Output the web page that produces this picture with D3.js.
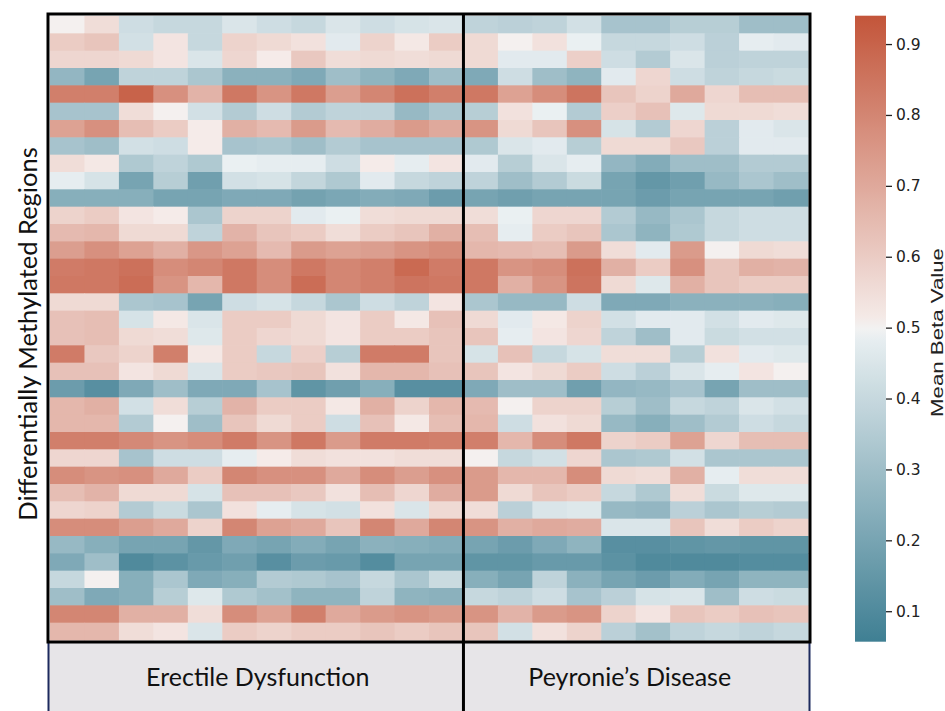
<!DOCTYPE html>
<html>
<head>
<meta charset="utf-8">
<script src="https://cdn.jsdelivr.net/npm/d3@7/dist/d3.min.js"></script>
<style>
    body { margin: 0; background: #fff; }
    svg { display: block; }
</style>
</head>
<body>
<svg class="chart" width="945" height="711"></svg>
<script>
// Groups shown under the heatmap
const groups = ["Erectile Dysfunction", "Peyronie\u2019s Disease"];

// Mean beta values, one row per region, one column per sample (ED: 12, PD: 10)
const edValues = [
    [0.50, 0.55, 0.42, 0.40, 0.40, 0.45, 0.42, 0.40, 0.45, 0.42, 0.44, 0.45],
    [0.60, 0.62, 0.43, 0.53, 0.40, 0.58, 0.56, 0.54, 0.47, 0.58, 0.52, 0.60],
    [0.57, 0.57, 0.56, 0.53, 0.45, 0.57, 0.51, 0.61, 0.55, 0.56, 0.55, 0.56],
    [0.27, 0.20, 0.38, 0.38, 0.33, 0.25, 0.25, 0.22, 0.30, 0.26, 0.22, 0.30],
    [0.82, 0.82, 0.90, 0.77, 0.67, 0.84, 0.76, 0.84, 0.73, 0.80, 0.86, 0.82],
    [0.32, 0.32, 0.55, 0.50, 0.43, 0.35, 0.42, 0.35, 0.38, 0.38, 0.28, 0.33],
    [0.72, 0.77, 0.64, 0.60, 0.51, 0.68, 0.65, 0.74, 0.65, 0.69, 0.74, 0.70],
    [0.32, 0.30, 0.43, 0.42, 0.51, 0.32, 0.33, 0.30, 0.35, 0.32, 0.32, 0.32],
    [0.55, 0.52, 0.34, 0.38, 0.34, 0.49, 0.48, 0.48, 0.42, 0.51, 0.48, 0.53],
    [0.48, 0.44, 0.20, 0.36, 0.18, 0.43, 0.44, 0.39, 0.34, 0.47, 0.40, 0.38],
    [0.24, 0.24, 0.24, 0.20, 0.20, 0.22, 0.22, 0.19, 0.21, 0.23, 0.22, 0.17],
    [0.58, 0.60, 0.53, 0.51, 0.33, 0.58, 0.58, 0.47, 0.49, 0.55, 0.56, 0.56],
    [0.65, 0.66, 0.56, 0.56, 0.38, 0.67, 0.62, 0.60, 0.55, 0.60, 0.62, 0.68],
    [0.73, 0.77, 0.72, 0.68, 0.75, 0.72, 0.65, 0.74, 0.72, 0.73, 0.76, 0.78],
    [0.83, 0.84, 0.86, 0.78, 0.80, 0.84, 0.78, 0.84, 0.80, 0.82, 0.88, 0.83],
    [0.84, 0.84, 0.87, 0.76, 0.66, 0.84, 0.78, 0.87, 0.80, 0.82, 0.85, 0.84],
    [0.56, 0.56, 0.33, 0.32, 0.20, 0.42, 0.44, 0.40, 0.33, 0.42, 0.38, 0.53],
    [0.63, 0.64, 0.44, 0.52, 0.45, 0.60, 0.60, 0.56, 0.53, 0.60, 0.52, 0.63],
    [0.63, 0.64, 0.56, 0.55, 0.46, 0.60, 0.57, 0.56, 0.53, 0.60, 0.60, 0.62],
    [0.83, 0.61, 0.58, 0.82, 0.52, 0.60, 0.40, 0.59, 0.36, 0.83, 0.83, 0.62],
    [0.63, 0.63, 0.53, 0.56, 0.45, 0.60, 0.61, 0.62, 0.54, 0.66, 0.66, 0.63],
    [0.17, 0.12, 0.22, 0.30, 0.22, 0.22, 0.32, 0.14, 0.18, 0.24, 0.12, 0.12],
    [0.66, 0.68, 0.43, 0.55, 0.36, 0.67, 0.60, 0.60, 0.52, 0.68, 0.58, 0.66],
    [0.66, 0.66, 0.35, 0.50, 0.30, 0.62, 0.56, 0.60, 0.42, 0.63, 0.52, 0.64],
    [0.82, 0.82, 0.79, 0.76, 0.78, 0.83, 0.76, 0.84, 0.74, 0.83, 0.83, 0.82],
    [0.57, 0.57, 0.32, 0.42, 0.42, 0.48, 0.51, 0.55, 0.54, 0.54, 0.55, 0.55],
    [0.78, 0.76, 0.77, 0.70, 0.60, 0.80, 0.77, 0.77, 0.70, 0.78, 0.73, 0.77],
    [0.64, 0.67, 0.56, 0.56, 0.44, 0.63, 0.63, 0.61, 0.54, 0.64, 0.57, 0.69],
    [0.57, 0.58, 0.35, 0.41, 0.33, 0.54, 0.48, 0.44, 0.43, 0.54, 0.45, 0.56],
    [0.78, 0.78, 0.73, 0.70, 0.58, 0.80, 0.72, 0.70, 0.62, 0.80, 0.70, 0.80],
    [0.28, 0.24, 0.20, 0.20, 0.15, 0.22, 0.20, 0.23, 0.20, 0.25, 0.24, 0.23],
    [0.22, 0.30, 0.10, 0.13, 0.16, 0.18, 0.12, 0.17, 0.16, 0.11, 0.20, 0.20],
    [0.40, 0.50, 0.24, 0.33, 0.22, 0.24, 0.35, 0.34, 0.32, 0.40, 0.33, 0.41],
    [0.30, 0.22, 0.24, 0.36, 0.46, 0.34, 0.31, 0.26, 0.26, 0.38, 0.26, 0.25],
    [0.80, 0.80, 0.68, 0.68, 0.55, 0.78, 0.72, 0.82, 0.70, 0.74, 0.76, 0.74],
    [0.66, 0.66, 0.55, 0.53, 0.45, 0.60, 0.58, 0.60, 0.60, 0.62, 0.60, 0.62]
];

const pdValues = [
    [0.38, 0.37, 0.38, 0.43, 0.32, 0.32, 0.36, 0.36, 0.30, 0.30],
    [0.56, 0.50, 0.54, 0.49, 0.40, 0.40, 0.42, 0.37, 0.48, 0.47],
    [0.56, 0.47, 0.47, 0.59, 0.42, 0.35, 0.45, 0.37, 0.38, 0.38],
    [0.22, 0.42, 0.30, 0.26, 0.47, 0.57, 0.42, 0.38, 0.40, 0.41],
    [0.84, 0.72, 0.78, 0.85, 0.62, 0.58, 0.70, 0.57, 0.64, 0.64],
    [0.36, 0.54, 0.49, 0.35, 0.59, 0.63, 0.46, 0.56, 0.56, 0.55],
    [0.76, 0.56, 0.62, 0.77, 0.44, 0.35, 0.57, 0.37, 0.47, 0.45],
    [0.34, 0.45, 0.47, 0.36, 0.56, 0.56, 0.61, 0.37, 0.47, 0.47],
    [0.47, 0.36, 0.45, 0.48, 0.27, 0.23, 0.30, 0.30, 0.35, 0.35],
    [0.38, 0.30, 0.35, 0.41, 0.20, 0.15, 0.18, 0.28, 0.33, 0.30],
    [0.20, 0.18, 0.20, 0.20, 0.20, 0.17, 0.20, 0.20, 0.20, 0.18],
    [0.55, 0.49, 0.57, 0.57, 0.35, 0.28, 0.33, 0.40, 0.42, 0.42],
    [0.64, 0.48, 0.60, 0.62, 0.33, 0.26, 0.34, 0.40, 0.42, 0.42],
    [0.66, 0.65, 0.64, 0.74, 0.55, 0.47, 0.74, 0.50, 0.56, 0.55],
    [0.84, 0.76, 0.78, 0.86, 0.68, 0.60, 0.77, 0.62, 0.68, 0.67],
    [0.84, 0.68, 0.76, 0.85, 0.56, 0.46, 0.68, 0.62, 0.60, 0.60],
    [0.33, 0.28, 0.28, 0.42, 0.22, 0.22, 0.25, 0.25, 0.25, 0.24],
    [0.56, 0.47, 0.52, 0.58, 0.43, 0.47, 0.47, 0.43, 0.47, 0.46],
    [0.62, 0.48, 0.53, 0.57, 0.38, 0.30, 0.47, 0.41, 0.43, 0.43],
    [0.44, 0.63, 0.40, 0.44, 0.55, 0.55, 0.36, 0.54, 0.47, 0.46],
    [0.62, 0.53, 0.56, 0.60, 0.42, 0.37, 0.45, 0.48, 0.53, 0.50],
    [0.22, 0.30, 0.30, 0.18, 0.27, 0.28, 0.32, 0.20, 0.30, 0.30],
    [0.65, 0.50, 0.58, 0.58, 0.36, 0.30, 0.40, 0.38, 0.45, 0.43],
    [0.66, 0.42, 0.54, 0.56, 0.28, 0.24, 0.30, 0.35, 0.42, 0.40],
    [0.82, 0.66, 0.78, 0.84, 0.58, 0.60, 0.72, 0.57, 0.64, 0.64],
    [0.50, 0.40, 0.43, 0.57, 0.33, 0.34, 0.43, 0.33, 0.33, 0.33],
    [0.74, 0.66, 0.66, 0.78, 0.56, 0.55, 0.68, 0.48, 0.55, 0.55],
    [0.74, 0.56, 0.62, 0.60, 0.40, 0.34, 0.55, 0.41, 0.46, 0.46],
    [0.55, 0.37, 0.45, 0.46, 0.28, 0.27, 0.37, 0.33, 0.36, 0.35],
    [0.76, 0.68, 0.70, 0.69, 0.45, 0.45, 0.62, 0.55, 0.60, 0.58],
    [0.20, 0.17, 0.22, 0.26, 0.12, 0.12, 0.14, 0.15, 0.14, 0.14],
    [0.14, 0.14, 0.16, 0.16, 0.13, 0.10, 0.10, 0.10, 0.11, 0.11],
    [0.24, 0.20, 0.38, 0.25, 0.20, 0.17, 0.23, 0.20, 0.26, 0.26],
    [0.40, 0.38, 0.42, 0.32, 0.37, 0.44, 0.45, 0.30, 0.42, 0.41],
    [0.76, 0.67, 0.74, 0.76, 0.58, 0.53, 0.62, 0.60, 0.63, 0.62],
    [0.62, 0.43, 0.54, 0.58, 0.37, 0.31, 0.38, 0.40, 0.38, 0.40]
];

// Colorbar range and ticks
const colorDomain = [0.057, 0.94];
const colorTicks = [0.1, 0.2, 0.3, 0.4, 0.5, 0.6, 0.7, 0.8, 0.9];

// Layout
const heat = { left: 50, right: 808, top: 16, bottom: 640 };
const bar = { x: 855, width: 31 };

const svg = d3.select(".chart");

// Build cell list
const edCols = edValues[0].map((_, i) => "ED" + i);
const pdCols = pdValues[0].map((_, i) => "PD" + i);
const allCols = edCols.concat(pdCols);
const rows = d3.range(edValues.length);

const cells = [];
rows.forEach((r) => {
    edValues[r].forEach((v, c) => cells.push({ row: r, col: edCols[c], value: v }));
    pdValues[r].forEach((v, c) => cells.push({ row: r, col: pdCols[c], value: v }));
});

// Scales
const xScale = d3.scaleBand().domain(allCols).range([heat.left, heat.right]);
const yScale = d3.scaleBand().domain(rows).range([heat.top, heat.bottom]);

const [vmin, vmax] = colorDomain;
const vmid = (vmin + vmax) / 2;
const eps = (vmax - vmin) / 256;
const colorScale = d3
    .scaleLinear()
    .domain([vmin, vmid - eps, vmid, vmid + eps, vmax])
    .range(["#3f7f93", "#ecf1f3", "#f2f2f2", "#f6eeec", "#c3553a"])
    .interpolate(d3.interpolateRgb)
    .clamp(true);

// Cells
svg.append("g")
    .selectAll("rect")
    .data(cells)
    .enter()
    .append("rect")
    .attr("x", (d) => xScale(d.col))
    .attr("y", (d) => yScale(d.row))
    .attr("width", xScale.bandwidth() + 0.6)
    .attr("height", yScale.bandwidth() + 0.6)
    .style("fill", (d) => colorScale(d.value));

// Group label boxes under the heatmap
const splitX = xScale(pdCols[0]);
const boxes = [
    { name: groups[0], x0: heat.left - 2, x1: splitX },
    { name: groups[1], x0: splitX, x1: heat.right + 2 }
];

svg.append("g")
    .selectAll("rect")
    .data(boxes)
    .enter()
    .append("rect")
    .attr("x", (d) => d.x0)
    .attr("y", heat.bottom + 2)
    .attr("width", (d) => d.x1 - d.x0)
    .attr("height", 711 - heat.bottom - 2)
    .style("fill", "#e7e5e8");

svg.append("g")
    .selectAll("text")
    .data(boxes)
    .enter()
    .append("text")
    .attr("x", (d) => (d.x0 + d.x1) / 2 + (d.name === groups[0] ? 2 : -7))
    .attr("y", 686)
    .attr("text-anchor", "middle")
    .style("font-family", "Lato, 'Open Sans', sans-serif")
    .style("font-size", "25px")
    .style("fill", "#111")
    .text((d) => d.name);

// Navy edges of the label boxes
svg.append("line")
    .attr("x1", heat.left - 1.5).attr("x2", heat.left - 1.5)
    .attr("y1", heat.bottom + 2).attr("y2", 711)
    .style("stroke", "#1d2a5e").style("stroke-width", 2);
svg.append("line")
    .attr("x1", heat.right + 1.5).attr("x2", heat.right + 1.5)
    .attr("y1", heat.bottom + 2).attr("y2", 711)
    .style("stroke", "#1d2a5e").style("stroke-width", 2);

// Frame and divider
svg.append("rect")
    .attr("x", heat.left - 2)
    .attr("y", heat.top - 2)
    .attr("width", heat.right - heat.left + 4)
    .attr("height", heat.bottom - heat.top + 4)
    .style("fill", "none")
    .style("stroke", "#000")
    .style("stroke-width", 3);

svg.append("line")
    .attr("x1", splitX).attr("x2", splitX)
    .attr("y1", heat.top - 2).attr("y2", 711)
    .style("stroke", "#000")
    .style("stroke-width", 3);

// Y axis title
svg.append("text")
    .attr("transform", `translate(37, 334) rotate(-90)`)
    .attr("text-anchor", "middle")
    .style("font-family", "Lato, 'Open Sans', sans-serif")
    .style("font-size", "25.5px")
    .style("fill", "#111")
    .text("Differentially Methylated Regions");

// Colorbar
const barScale = d3.scaleLinear().domain(colorDomain).range([641.7, 15.7]);

const grad = svg.append("defs")
    .append("linearGradient")
    .attr("id", "cbar")
    .attr("x1", 0).attr("y1", 1).attr("x2", 0).attr("y2", 0);

grad.selectAll("stop")
    .data(d3.range(0, 1.0001, 0.02))
    .enter()
    .append("stop")
    .attr("offset", (t) => t)
    .attr("stop-color", (t) => colorScale(vmin + t * (vmax - vmin)));

svg.append("rect")
    .attr("x", bar.x)
    .attr("y", barScale(vmax))
    .attr("width", bar.width)
    .attr("height", barScale(vmin) - barScale(vmax))
    .style("fill", "url(#cbar)");

const barAxis = svg.append("g")
    .attr("transform", `translate(${bar.x + bar.width}, 0)`)
    .call(d3.axisRight(barScale).tickValues(colorTicks).tickSize(6).tickPadding(4).tickFormat(d3.format(".1f")));

barAxis.select(".domain").remove();
barAxis.selectAll("line").style("stroke", "#222").style("stroke-width", 1.3);
barAxis.selectAll("text")
    .style("font-family", "'DejaVu Sans', sans-serif")
    .style("font-size", "15.5px")
    .style("fill", "#222");

// Colorbar title, stretched along its length like the original
svg.append("text")
    .attr("transform", `translate(943, 332.5) rotate(-90)`)
    .attr("text-anchor", "middle")
    .attr("textLength", 169)
    .attr("lengthAdjust", "spacingAndGlyphs")
    .style("font-family", "'Liberation Sans', Arial, sans-serif")
    .style("font-size", "16.5px")
    .style("fill", "#222")
    .text("Mean Beta Value");
</script>
</body>
</html>
